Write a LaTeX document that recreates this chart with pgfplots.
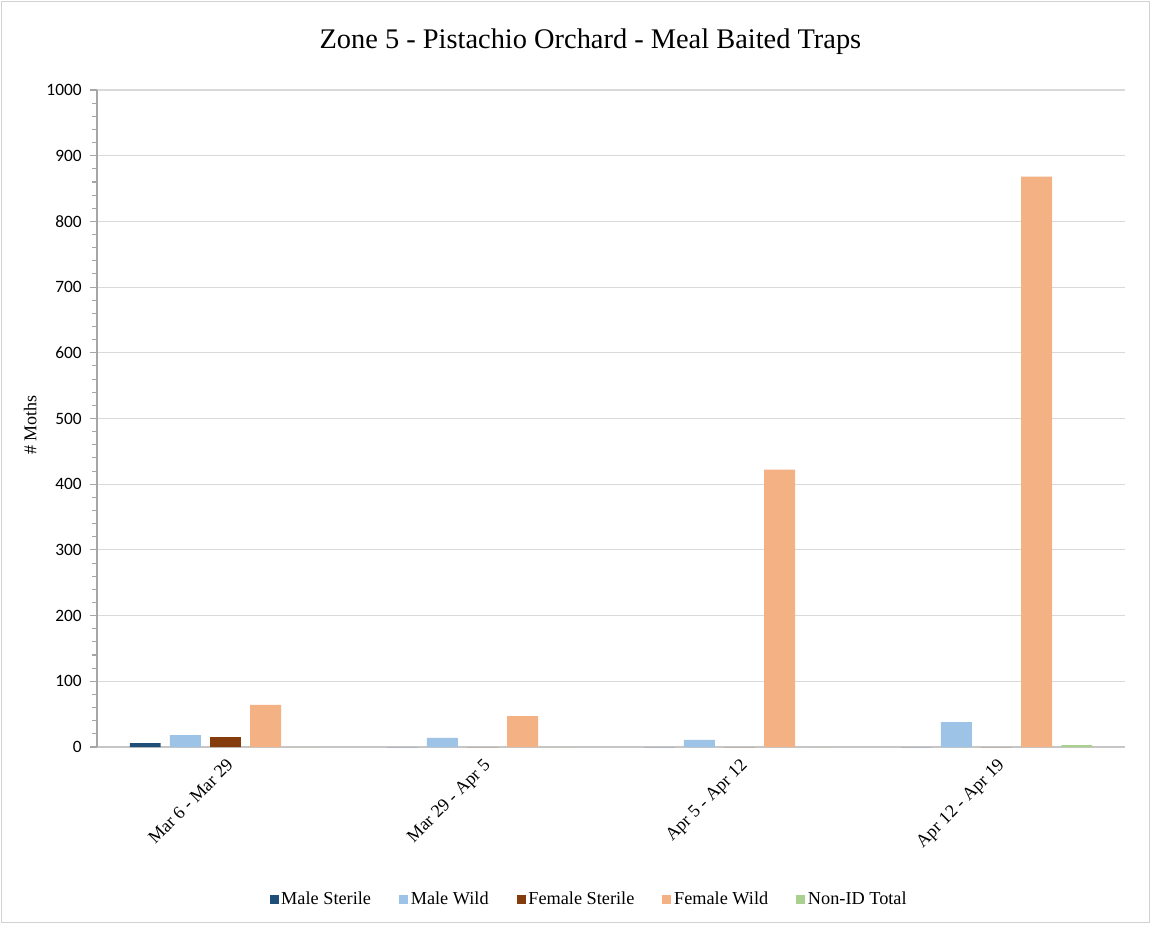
\documentclass[border=0pt]{standalone}
\usepackage{fontspec}
\setmainfont{Liberation Serif}
\newfontfamily\carlito{Carlito}
\usepackage{pgfplots}
\pgfplotsset{compat=1.18}
\definecolor{cMS}{HTML}{1F4E79}
\definecolor{cMW}{HTML}{9DC3E6}
\definecolor{cFS}{HTML}{843C0C}
\definecolor{cFW}{HTML}{F4B183}
\definecolor{cNI}{HTML}{A9D18E}
\begin{document}
\begin{tikzpicture}[x=1pt,y=1pt]
\path[use as bounding box] (-72.75,-132.75) rectangle (790.5,560.25);
\draw[gray!35,line width=0.8pt] (-71.5,-131.5) rectangle (789.25,559);
\begin{axis}[
  at={(0pt,0pt)}, anchor=south west,
  scale only axis,
  width=771pt, height=492.75pt,
  xmin=-0.5, xmax=3.5,
  ymin=0, ymax=1000,
  ytick={0,100,...,1000},
  minor y tick num=4,
  xtick={0,1,2,3},
  xticklabels={Mar 6 - Mar 29, Mar 29 - Apr 5, Apr 5 - Apr 12, Apr 12 - Apr 19},
  x tick label style={rotate=45, anchor=north east, font=\fontsize{13.5}{15}\selectfont, inner sep=2pt},
  y tick label style={font=\carlito\fontsize{13}{15}\selectfont, xshift=-3pt},
  /pgf/number format/assume math mode=true,
  /pgf/number format/1000 sep={},
  axis x line*=bottom, axis y line*=left,
  axis line style={gray!70, line width=0.9pt},
  x axis line style={-, gray!45},
  y axis line style={-},
  tick style={gray!70, line width=0.8pt},
  tick align=outside,
  major tick length=5pt, minor tick length=3.5pt,
  x tick style={draw=none},
  ymajorgrids, major grid style={gray!30, line width=0.8pt},
  ylabel={\# Moths},
  every axis y label/.style={at={(axis description cs:-0.065,0.49)}, rotate=90, anchor=center, font=\fontsize{13.5}{15}\selectfont},
  title={Zone 5 - Pistachio Orchard - Meal Baited Traps},
  every axis title/.style={at={(axis description cs:0.48,1.073)}, anchor=center, font=\fontsize{21.3}{24}\selectfont},
  ybar, bar width=0.12,
  legend columns=5,
  legend style={at={(axis description cs:0.479,-0.2315)}, anchor=center, draw=none, fill=none,
    font=\fontsize{13.7}{15}\selectfont, inner sep=0pt,
    /tikz/every even column/.append style={column sep=19pt},
    /tikz/every odd column/.append style={column sep=0pt},
    nodes={inner sep=2pt}},
  legend image code/.code={\fill[#1] (0pt,-3.4pt) rectangle (6.8pt,3.4pt);},
]
\addplot[fill=cMS, draw=none, bar shift=-0.312] coordinates {(0,6) (1,0) (2,0) (3,0)};
\addplot[fill=cMW, draw=none, bar shift=-0.156] coordinates {(0,18) (1,14) (2,11) (3,38)};
\addplot[fill=cFS, draw=none, bar shift=0] coordinates {(0,15) (1,0) (2,0) (3,0)};
\addplot[fill=cFW, draw=none, bar shift=0.156] coordinates {(0,64) (1,47) (2,422) (3,868)};
\addplot[fill=cNI, draw=none, bar shift=0.312] coordinates {(0,0) (1,0) (2,0) (3,3)};
\legend{Male Sterile, Male Wild, Female Sterile, Female Wild, Non-ID Total}
\end{axis}
\end{tikzpicture}
\end{document}
